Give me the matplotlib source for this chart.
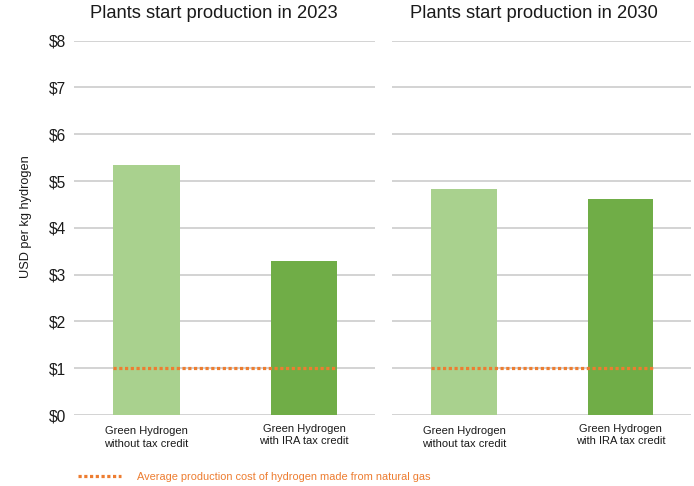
import numpy as np
import matplotlib
matplotlib.use('Agg')
from matplotlib import pyplot as plt
from matplotlib.lines import Line2D
from matplotlib.transforms import ScaledTranslation

plt.rcParams['font.family'] = ['Liberation Sans', 'DejaVu Sans']

# cost per kg of green hydrogen, USD
categories = ['Green Hydrogen\nwithout tax credit', 'Green Hydrogen\nwith IRA tax credit']
titles = ['Plants start production in 2023', 'Plants start production in 2030']
cost_2023 = [5.34, 3.29]
cost_2030 = [4.83, 4.62]
gas_cost = 1.0
yticks = [0, 1, 2, 3, 4, 5, 6, 7, 8]
ytick_labels = ['$0', '$1', '$2', '$3', '$4', '$5', '$6', '$7', '$8']

bar_colors = ['#A9D18E', '#70AD47']
gas_color = '#ED7D31'
grid_color = '#C8C8C8'
dots = (0, (1, 0.8))
dot_lw = 2.3

W, H = 694, 486
fig = plt.figure(figsize=(W / 100, H / 100), dpi=100)
ax1 = fig.add_axes([74 / W, 71 / H, 301 / W, 374.3 / H])
ax2 = fig.add_axes([392 / W, 71 / H, 299 / W, 374.3 / H])

x = np.arange(len(categories))
width = 0.42
title_x = [0.465, 0.475]

for ax, vals, title, tx in zip([ax1, ax2], [cost_2023, cost_2030], titles, title_x):
    ax.bar(x, vals, width=width, color=bar_colors, zorder=2)
    ax.hlines(gas_cost, x[0] - width / 2, x[-1] + width / 2, colors=gas_color,
              linewidth=dot_lw, linestyles=dots, zorder=3)
    ax.set_ylim(0, 8)
    ax.set_xlim(-0.46, 1.45)
    ax.set_yticks(yticks)
    ax.yaxis.grid(True, color=grid_color, linewidth=1.1, zorder=0)
    ax.set_axisbelow(True)
    ax.set_xticks(x)
    ax.set_xticklabels(categories, fontsize=8, color='#1a1a1a', linespacing=1.35)
    ax.tick_params(axis='x', length=0, pad=8)
    ax.tick_params(axis='y', length=0, pad=6)
    for s in ax.spines.values():
        s.set_visible(False)
    ax.set_title(title, fontsize=13.2, color='#1a1a1a', x=tx, pad=16)
    # second category label sits a touch higher
    lab = ax.get_xticklabels()[1]
    lab.set_transform(lab.get_transform() + ScaledTranslation(0, 2.5 / 100, fig.dpi_scale_trans))

ax1.set_yticklabels(ytick_labels, fontsize=11.2, color='#1a1a1a')
ax2.set_yticklabels([])
ax1.set_ylabel('USD per kg hydrogen', fontsize=9.2, color='#1a1a1a')
ax1.yaxis.set_label_coords(-0.14, 0.53)

handle = Line2D([], [], color=gas_color, linewidth=dot_lw, linestyle=dots)
leg = fig.legend([handle], ['Average production cost of hydrogen made from natural gas'],
                 loc='center left', bbox_to_anchor=(78 / W, 1 - 477 / H),
                 frameon=False, fontsize=7.9, labelcolor=gas_color,
                 handlelength=3.9, handletextpad=1.45, borderpad=0, borderaxespad=0)

fig.savefig('out.png', dpi=100)
